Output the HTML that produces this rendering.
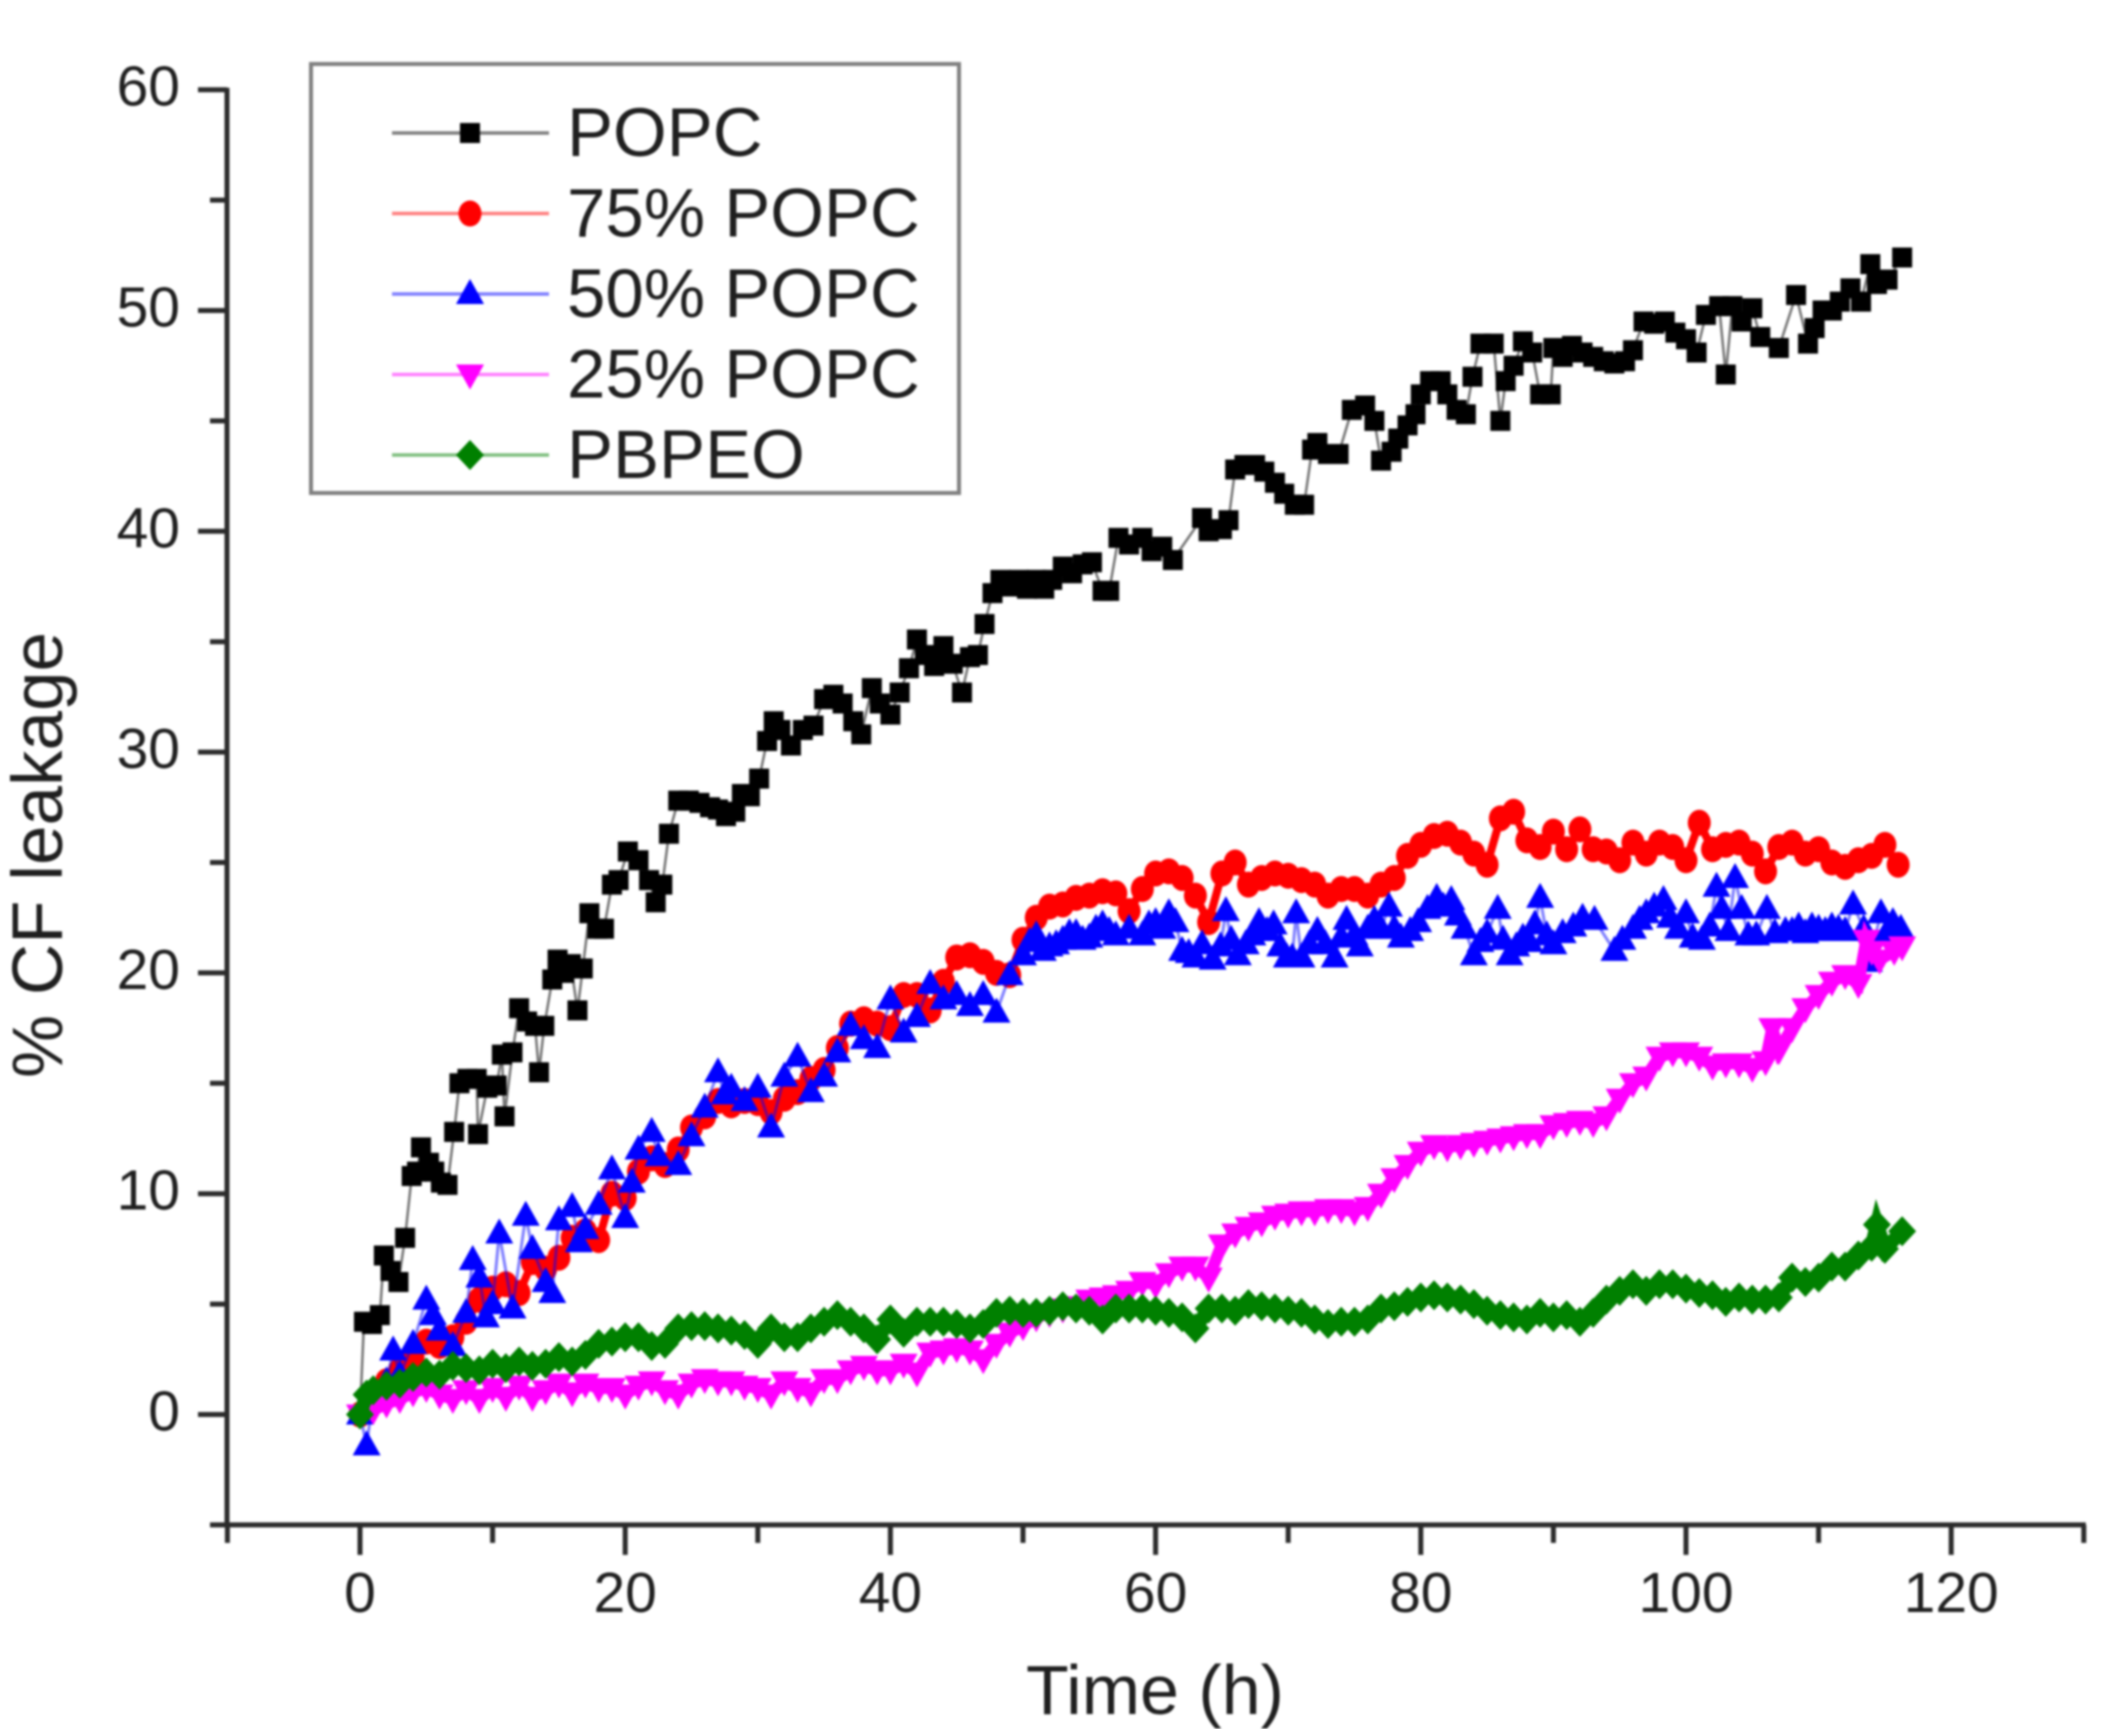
<!DOCTYPE html>
<html lang="en">
<head>
<meta charset="utf-8">
<title>CF leakage over time</title>
<style>
html,body{margin:0;padding:0;background:#fff;width:2112px;height:1729px;overflow:hidden}
#chart{display:block;filter:blur(1.1px)}
text{font-family:"Liberation Sans",Arial,sans-serif;fill:#1f1f1f}
</style>
</head>
<body>
<svg id="chart" xmlns="http://www.w3.org/2000/svg" width="2112" height="1729" viewBox="0 0 2112 1729">
  <rect x="0" y="0" width="2112" height="1729" fill="#fff"/>
  <g id="series-layer"></g>
  <g id="axes-layer"></g>
  <text x="1155" y="1714" font-size="70" text-anchor="middle">Time (h)</text>
  <text transform="translate(62,855) rotate(-90)" font-size="71" text-anchor="middle">% CF leakage</text>
  <g id="legend-layer">
    <rect x="311" y="64" width="648" height="429" fill="#fff" stroke="#808080" stroke-width="4"/>
  </g>
</svg>
<script>
const xMajorTicks = [0, 20, 40, 60, 80, 100, 120];
const xMinorTicks = [-10, 10, 30, 50, 70, 90, 110, 130];
const yMajorTicks = [0, 10, 20, 30, 40, 50, 60];
const yMinorTicks = [-5, 5, 15, 25, 35, 45, 55];
const seriesLabels = ["POPC", "75% POPC", "50% POPC", "25% POPC", "PBPEO"];

const popcTime = [0,0.3,0.9,1.5,1.8,2.3,2.9,3.4,3.9,4.3,4.6,5.2,5.6,6.1,6.6,7.1,7.5,8.1,8.8,8.9,9.6,10.3,10.7,10.9,11.5,12,12.6,13.2,13.5,13.9,14.5,14.9,15.4,15.9,16.4,16.8,17.3,17.9,18.4,19,19.5,20.2,21,21.8,22.3,22.8,23.3,24,24.8,25.6,26.4,27,27.6,28.3,28.8,29.4,30.1,30.7,31.2,31.7,32.5,33.4,34.2,35,35.7,36.4,37.2,37.8,38.6,39.2,40,40.7,41.4,42,42.6,43.3,44,44.7,45.4,46,46.6,47.1,47.7,48.3,49,49.7,50.3,51,51.6,52.2,53,53.7,54.5,55.2,56,56.5,57.2,58,59,59.7,60.5,61.3,63.5,64,65,65.5,66,66.7,67.5,68.2,69,69.7,70.5,71.2,71.8,72.2,73,73.8,74.8,75.8,76.5,77,77.8,78.3,79,79.6,80,80.7,81.5,82,82.7,83.4,83.9,84.5,85.5,86,86.4,87,87.7,88.4,89,89.8,90,90.7,91.4,92.2,93,93.8,94.6,95.4,96,96.8,97.6,98.4,99.2,100,100.8,101.5,102.5,103,103.5,104.2,105,105.6,107,108.3,109.2,109.7,110.3,111,111.6,112.4,113.2,113.9,114.4,115.2,116.3];
const popcLeak = [0,4.2,4.1,4.5,7.2,6.5,6,8,10.8,11,12.1,11.4,11,10.5,10.4,12.8,15,15.2,15.2,12.7,14.8,14.9,16.3,13.5,16.4,18.4,17.8,17.6,15.5,17.6,19.7,20.6,20,20.4,18.3,20.2,22.7,22,22,24,24.2,25.5,25.1,24.2,23.2,24,26.3,27.8,27.8,27.7,27.5,27.4,27.1,27.3,28.1,28,28.8,30.5,31.4,31,30.3,31,31.2,32.4,32.6,32.2,31.4,30.8,32.9,32.2,31.7,32.7,33.8,35.1,34.4,33.9,34.8,34,32.7,34.3,34.4,35.8,37.2,37.8,37.5,37.8,37.4,37.8,37.4,37.8,38.4,38.1,38.5,38.6,37.3,37.3,39.7,39.4,39.7,39.1,39.3,38.7,40.6,40,40.1,40.5,42.8,43,43,42.7,42.2,41.7,41.2,41.2,43.7,44,43.5,43.5,45.5,45.7,45,43.2,43.6,44.2,44.8,45.3,46.2,46.8,46.8,46.2,45.5,45.3,47,48.5,48.5,45,46.8,47.5,48.6,48.1,46.2,46.2,48.3,47.9,48.4,48.1,47.9,47.7,47.6,47.7,48.2,49.5,49.4,49.5,49,48.7,48.1,49.8,50.2,47.1,50.2,49.5,50.1,48.8,48.3,50.7,48.5,49.2,50,50,50.4,51,50.4,52.1,51.2,51.4,52.4];

const popc75Time = [0,1,2,3,4,5,6,7,8,9,10,11,12,13,14,15,16,17,18,19,20,21,22,23,24,25,26,27,28,29,30,31,32,33,34,35,36,37,38,39,40,41,42,43,44,45,46,47,48,49,50,51,52,53,54,55,56,57,58,59,60,61,62,63,64,65,66,67,68,69,70,71,72,73,74,75,76,77,78,79,80,81,82,83,84,85,86,87,88,89,90,91,92,93,94,95,96,97,98,99,100,101,102,103,104,105,106,107,108,109,110,111,112,113,114,115,116];
const popc75Leak = [0,0.8,1.5,2,2.6,3.3,3.1,3.5,4.2,5.2,5.7,5.9,5.5,6.9,6.6,7.1,8,8.3,7.9,10,9.8,11,11.6,11.3,12,13,13.5,14.2,14,14.2,14.1,13.7,14.3,14.6,15.2,15.6,16.6,17.7,17.9,17.7,17.5,19,19,18.3,19.6,20.7,20.8,20.5,20,19.9,21.5,22.5,23,23.1,23.4,23.5,23.7,23.6,22.8,23.8,24.5,24.6,24.3,23.5,22.3,24.5,25,24,24.3,24.5,24.4,24.2,24,23.5,23.8,23.8,23.5,24,24.3,25.3,25.8,26.2,26.3,25.9,25.4,24.9,27,27.3,26,25.7,26.4,25.6,26.5,25.6,25.5,25.1,25.9,25.4,25.9,25.7,25.1,26.8,25.6,25.8,25.9,25.4,24.6,25.7,25.9,25.4,25.6,25,24.8,25.1,25.3,25.8,24.9];

const popc50Time = [0,0.5,1,2,2.5,3,4,5,5.5,6,7,8,8.5,9,9.5,10,10.5,11.5,12.5,13,14,14.5,15,16,16.5,17,18,19,20,20.5,21,22,22.5,24,25,26,27,27.5,28,29,30,31,32,33,34,35,36,37,38,39,40,41,42,43,44,45,46,47,48,49,50,50.5,51,51.5,52,52.5,53,53.5,54,54.5,55,55.5,56,56.5,57,58,59,59.5,60,60.5,61,61.5,62,62.5,63,63.5,64.3,64.9,65.3,65.7,66.2,66.8,67.3,67.8,68.4,68.9,69.4,69.9,70.3,70.6,71,71.6,72.2,72.8,73.5,74,74.4,75,75.4,76,76.5,77,77.6,78,78.5,79.2,79.8,80.5,81.2,81.7,82.3,82.8,83.3,84,84.5,85,85.8,86.2,86.7,87.2,87.7,88.2,88.6,89,89.5,90,90.7,91.5,92.2,93.1,94.6,95.2,96,96.5,97,97.6,98.3,98.8,99.4,100,100.5,101.2,101.8,102.3,102.7,103.2,103.7,104.2,104.7,105.3,106.1,106.7,107.5,108,108.5,109,109.5,110,110.5,111,111.5,112,112.6,113.4,113.8,114.7,115.2,115.6,116.2];
const popc50Leak = [0,-1.4,0.8,1.5,2.9,1.8,3.2,5.2,4.5,3.8,3.1,4.6,7,6.2,4.4,5,8.2,4.8,9,7.5,6,5.5,8.8,9.4,7.8,8.4,9.5,11.1,8.9,10.5,12,12.8,11.7,11.3,12.6,13.9,15.5,14.5,14.8,14.2,14.8,13,15.3,16.2,14.6,15.3,16.4,17.6,17,16.6,18.8,17.3,18,19.5,18.8,19,18.5,19,18.2,19.9,20.8,21.4,21.7,21,21.2,21.3,21.5,21.8,21.8,21.5,21.6,22,22.2,21.9,21.7,22,21.7,22.2,22.3,22,22.7,22.3,21,20.9,20.7,21.3,20.6,21.2,22.8,21.5,20.8,21.3,21.7,22.3,21.9,22.2,21.2,20.7,20.7,22.7,20.7,21.3,21.9,21.3,20.7,21.6,22.4,21.7,21.2,22,22.4,22,23,22,21.6,21.9,22.3,22.9,23.4,23,23.3,22.6,22,20.8,21.4,21.8,22.9,21.5,20.8,21.2,21.6,21.4,22.2,23.4,21.7,21.3,21.8,22.1,22.5,22.4,21,21.5,22,22.4,22.7,23,23.3,22.5,22,22.7,21.6,21.5,22.1,23.9,22.9,21.9,24.3,22.9,21.7,21.7,22.9,21.8,21.9,21.9,22.1,21.8,22.1,22,21.9,22.1,22,21.9,23.1,22,20.5,22.7,21.9,22.3,22];

const popc25Time = [0,1,2,3,4,5,6,7,8,9,10,11,12,13,14,15,16,17,18,19,20,21,22,23,24,25,26,27,28,29,30,31,32,33,34,35,36,37,38,39,40,41,42,43,44,45,46,47,48,49,50,51,52,53,54,55,56,57,58,59,60,61,62,63,64,65,66,67,68,69,70,71,72,73,74,75,76,77,78,79,80,81,82,83,84,85,86,87,88,89,90,91,92,93,94,95,96,97,98,99,100,101,102,103,104,105,106,106.5,107,108,109,110,111,112,113,113.6,114,114.6,115.7,116.3];
const popc25Leak = [0,0.2,0.5,0.7,1,1.2,0.9,0.7,1.1,0.7,1.2,0.8,1.3,0.8,1.1,1.4,1,1.4,1.2,1.2,0.9,1.3,1.5,1.1,0.9,1.4,1.6,1.5,1.5,1.3,1.2,0.9,1.5,1.2,1,1.6,1.6,2,2.2,2,2,2.3,1.9,2.8,2.9,3,2.9,2.5,3.2,3.7,4,4.4,4.6,4.8,4.9,5.2,5.3,5.4,5.6,6,5.9,6.4,6.7,6.7,6.2,7.7,8.2,8.5,8.7,9,9.1,9.2,9.2,9.3,9.3,9.2,9.4,10,10.7,11.3,11.9,12.2,12.1,12.2,12.3,12.4,12.5,12.6,12.7,12.7,13.1,13.2,13.3,13.2,13.5,14.3,15,15.3,16.2,16.4,16.4,16.2,15.8,15.9,15.9,15.7,16,17.5,16.5,17.5,18.4,19,19.6,19.9,19.5,21.5,21,20.6,21,21.2];

const pbpeoTime = [0,0.5,1,2,3,4,5,6,7,8,9,10,11,12,13,14,15,16,17,18,19,20,21,22,23,24,25,26,27,28,29,30,31,32,33,34,35,36,37,38,39,40,41,42,43,44,45,46,47,48,49,50,51,52,53,54,55,56,57,58,59,60,61,62,63,64,65,66,67,68,69,70,71,72,73,74,75,76,77,78,79,80,81,82,83,84,85,86,87,88,89,90,91,92,93,94,95,96,97,98,99,100,101,102,103,104,105,106,107,108,109,110,111,112,113,114,114.4,115,116.3];
const pbpeoLeak = [0,0.9,1.1,1.3,1.4,1.7,1.9,1.8,2.2,2.1,2,2.3,2.1,2.4,2.2,2.3,2.6,2.4,2.7,3.2,3.3,3.5,3.5,3.1,3.2,3.9,4,4,3.9,3.8,3.6,3.2,3.9,3.5,3.5,3.9,4.2,4.5,4.2,3.9,3.4,4.3,3.7,4.2,4.2,4.2,4.1,3.9,4.1,4.6,4.7,4.6,4.6,4.7,4.9,4.8,4.7,4.3,4.8,4.8,4.8,4.7,4.6,4.4,3.9,4.8,4.8,4.7,5,4.9,4.8,4.7,4.6,4.3,4.1,4.2,4.2,4.3,4.8,4.9,5.1,5.3,5.4,5.3,5.2,5,4.7,4.5,4.4,4.3,4.6,4.4,4.5,4.2,4.6,5.2,5.6,5.9,5.6,5.9,5.9,5.7,5.5,5.4,5.1,5.3,5.2,5.2,5.3,6.2,6,6.2,6.7,6.7,7.2,7.6,8.6,7.5,8.3];

const SVG_NS = "http://www.w3.org/2000/svg";
const X_ZERO = 360, X_PER_UNIT = 13.26;
const Y_ZERO = 1414.5, Y_PER_UNIT = 22.08;
function xScale(v){ return X_ZERO + v * X_PER_UNIT; }
function yScale(v){ return Y_ZERO - v * Y_PER_UNIT; }

function markerPath(shape, x, y){
  if (shape === "square") return "M"+(x-10)+" "+(y-10)+"h20v20h-20z";
  if (shape === "circle") return "M"+(x-11.5)+" "+y+"a11.5 13 0 1 0 23 0a11.5 13 0 1 0 -23 0z";
  if (shape === "up") return "M"+x+" "+(y-15)+"L"+(x+14)+" "+(y+10)+"L"+(x-14)+" "+(y+10)+"z";
  if (shape === "down") return "M"+x+" "+(y+15)+"L"+(x+14)+" "+(y-10)+"L"+(x-14)+" "+(y-10)+"z";
  return "M"+x+" "+(y-15)+"L"+(x+14)+" "+y+"L"+x+" "+(y+15)+"L"+(x-14)+" "+y+"z";
}

const seriesLayer = document.getElementById("series-layer");
const axesLayer = document.getElementById("axes-layer");
const legendLayer = document.getElementById("legend-layer");

function drawSeries(name, times, values, color, shape, lineWidth, lineOpacity){
  const g = document.createElementNS(SVG_NS, "g");
  
  
  let pts = "";
  for (let i = 0; i < times.length; i++) pts += xScale(times[i]) + "," + yScale(values[i]) + " ";
  const line = document.createElementNS(SVG_NS, "polyline");
  
  
  line.setAttribute("points", pts);
  line.setAttribute("fill", "none");
  line.setAttribute("stroke", color);
  line.setAttribute("stroke-opacity", lineOpacity);
  line.setAttribute("stroke-width", lineWidth);
  g.appendChild(line);
  for (let i = 0; i < times.length; i++){
    const m = document.createElementNS(SVG_NS, "path");
    
    
    m.setAttribute("d", markerPath(shape, xScale(times[i]), yScale(values[i])));
    m.setAttribute("fill", color);
    g.appendChild(m);
  }
  seriesLayer.appendChild(g);
}

drawSeries("series-popc", popcTime, popcLeak, "#000000", "square", 2.5, 0.55);
drawSeries("series-75-popc", popc75Time, popc75Leak, "#ff0000", "circle", 8, 1);
drawSeries("series-50-popc", popc50Time, popc50Leak, "#0000ff", "up", 3, 0.5);
drawSeries("series-25-popc", popc25Time, popc25Leak, "#ff00ff", "down", 12, 1);
drawSeries("series-pbpeo", pbpeoTime, pbpeoLeak, "#008000", "diamond", 14, 1);

function axisLine(name, x1, y1, x2, y2){
  const l = document.createElementNS(SVG_NS, "line");
  
  
  l.setAttribute("x1", x1);
  l.setAttribute("y1", y1);
  l.setAttribute("x2", x2);
  l.setAttribute("y2", y2);
  l.setAttribute("stroke", "#2b2b2b");
  l.setAttribute("stroke-width", "5");
  axesLayer.appendChild(l);
}
function axisLabel(name, x, y, anchor, str){
  const t = document.createElementNS(SVG_NS, "text");
  
  
  t.setAttribute("x", x);
  t.setAttribute("y", y);
  t.setAttribute("text-anchor", anchor);
  t.setAttribute("font-size", "57");
  t.textContent = str;
  axesLayer.appendChild(t);
}

const AXIS_X = 227, AXIS_Y = yScale(-5);
const AXIS_RIGHT = xScale(130);
axisLine("y-axis-line", AXIS_X, yScale(60) - 2, AXIS_X, AXIS_Y + 2);
axisLine("x-axis-line", AXIS_X, AXIS_Y, AXIS_RIGHT + 2, AXIS_Y);
xMajorTicks.forEach(function(v){
  axisLine("x-major-tick", xScale(v), AXIS_Y, xScale(v), AXIS_Y + 30);
  axisLabel("x-tick-label", xScale(v), 1612, "middle", String(v));
});
xMinorTicks.forEach(function(v){
  axisLine("x-minor-tick", xScale(v), AXIS_Y, xScale(v), AXIS_Y + 18);
});
yMajorTicks.forEach(function(v){
  axisLine("y-major-tick", AXIS_X - 29, yScale(v), AXIS_X, yScale(v));
  axisLabel("y-tick-label", AXIS_X - 47, yScale(v) + 16, "end", String(v));
});
yMinorTicks.forEach(function(v){
  axisLine("y-minor-tick", AXIS_X - 17, yScale(v), AXIS_X, yScale(v));
});

const legendColors = ["#000000", "#ff0000", "#0000ff", "#ff00ff", "#008000"];
const legendShapes = ["square", "circle", "up", "down", "diamond"];
seriesLabels.forEach(function(label, i){
  const rowY = 133 + i * 80.5;
  const l = document.createElementNS(SVG_NS, "line");
  
  
  l.setAttribute("x1", 392);
  l.setAttribute("x2", 549);
  l.setAttribute("y1", rowY);
  l.setAttribute("y2", rowY);
  l.setAttribute("stroke", legendColors[i]);
  l.setAttribute("stroke-opacity", "0.5");
  l.setAttribute("stroke-width", "3.5");
  legendLayer.appendChild(l);
  const m = document.createElementNS(SVG_NS, "path");
  
  
  m.setAttribute("d", markerPath(legendShapes[i], 470, rowY));
  m.setAttribute("fill", legendColors[i]);
  legendLayer.appendChild(m);
  const t = document.createElementNS(SVG_NS, "text");
  
  
  t.setAttribute("x", 567);
  t.setAttribute("y", rowY + 23);
  t.setAttribute("font-size", "69");
  t.setAttribute("fill", "#141414");
  t.textContent = label;
  legendLayer.appendChild(t);
});
</script>
</body>
</html>
